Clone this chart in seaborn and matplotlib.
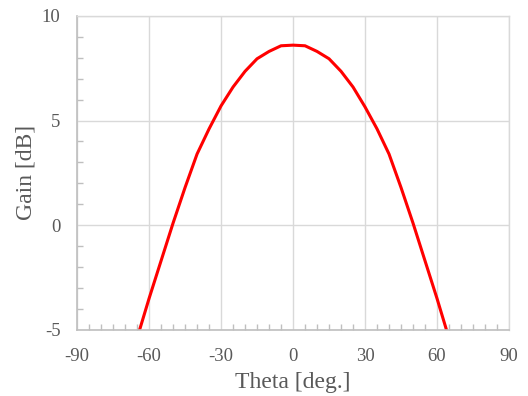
import numpy as np
import pandas as pd
import matplotlib
matplotlib.use("Agg")
import matplotlib.pyplot as plt
import seaborn as sns
from matplotlib.ticker import MultipleLocator

theta = [-70, -65, -60, -55, -50, -45, -40, -35, -30, -25, -20, -15, -10, -5, 0,
         5, 10, 15, 20, 25, 30, 35, 40, 45, 50, 55, 60, 65, 70]
gain = [-7.5, -5.4, -3.5, -1.7, 0.1, 1.8, 3.4, 4.6, 5.7, 6.6, 7.35, 7.95, 8.3, 8.57, 8.6,
        8.57, 8.3, 7.95, 7.35, 6.6, 5.65, 4.6, 3.4, 1.8, 0.1, -1.7, -3.5, -5.4, -7.5]
xticks = [-90, -60, -30, 0, 30, 60, 90]
yticks = [-5, 0, 5, 10]

df = pd.DataFrame({"Theta": theta, "Gain": gain})

sns.set_theme(style="white")
plt.rcParams['font.family'] = ['Liberation Serif', 'DejaVu Serif']

fig, ax = plt.subplots(figsize=(5.28, 3.96), dpi=100)
fig.subplots_adjust(left=0.146, right=0.964, top=0.96, bottom=0.167)

sns.lineplot(data=df, x="Theta", y="Gain", ax=ax, color="#ff0000", linewidth=2.2)

ax.set_xlim(-90, 90)
ax.set_ylim(-5, 10)
ax.set_xticks(xticks)
ax.set_yticks(yticks)
ax.set_xticklabels([str(t) for t in xticks])
ax.set_yticklabels([str(t) for t in yticks])
ax.xaxis.set_minor_locator(MultipleLocator(5))
ax.yaxis.set_minor_locator(MultipleLocator(1))

ax.grid(True, which="major", color="#d9d9d9", linewidth=1.0)
ax.set_axisbelow(True)
for s in ["top", "right"]:
    ax.spines[s].set_color("#d9d9d9")
    ax.spines[s].set_linewidth(1.0)
for s in ["left", "bottom"]:
    ax.spines[s].set_color("#bfbfbf")
    ax.spines[s].set_linewidth(1.2)

ax.tick_params(axis="both", which="major", direction="in", length=0, labelsize=13.5,
               colors="#595959")
ax.tick_params(axis="x", which="major", pad=13)
ax.tick_params(axis="y", which="major", pad=12)
ax.tick_params(axis="both", which="minor", direction="in", length=4, width=1,
               color="#bfbfbf", bottom=True, left=True)
ax.tick_params(axis="x", which="minor", top=False)
ax.tick_params(axis="y", which="minor", right=False)

ax.set_xlabel("Theta [deg.]", fontsize=17, color="#595959", labelpad=5)
ax.set_ylabel("Gain [dB]", fontsize=17, color="#595959", labelpad=4)

fig.savefig("out.png", dpi=100)
